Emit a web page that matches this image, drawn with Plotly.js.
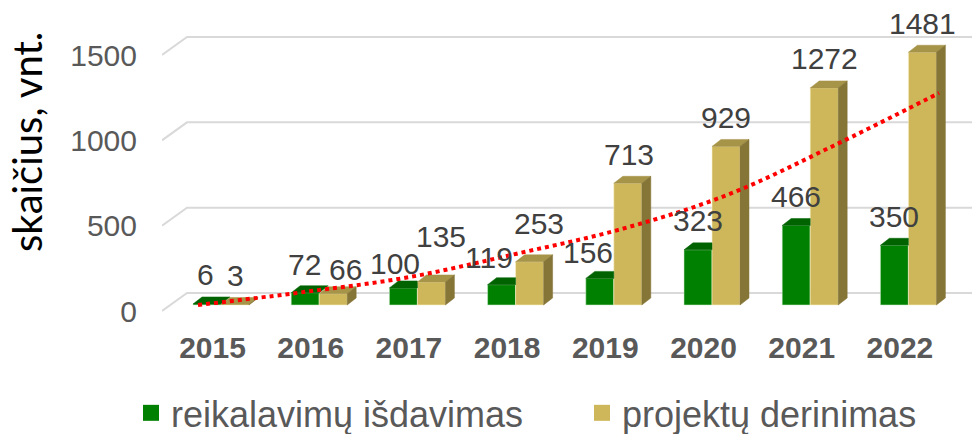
<!DOCTYPE html>
<html>
<head>
<meta charset="utf-8">
<script src="https://cdn.plot.ly/plotly-3.0.1.min.js"></script>
<style>html,body{margin:0;padding:0;background:#fff;}#chart{width:978px;height:434px;}</style>
</head>
<body>
<div id="chart"></div>
<script>
// ---- data ----
const years = ['2015','2016','2017','2018','2019','2020','2021','2022'];
const reikalavimu = [6, 72, 100, 119, 156, 323, 466, 350];
const projektu = [3, 66, 135, 253, 713, 929, 1272, 1481];
const trendValues = [0, 76, 164, 299, 445, 645, 932, 1242];
const yTickValues = [0, 500, 1000, 1500];
const seriesNames = ['reikalavimų išdavimas', 'projektų derinimas'];

// ---- label nudges (px) ----
const greenNudgeX = [-2, -1, -8, -13, -12, 0, 0, 0];
const greenNudgeY = [0, -1, -5, -2, -3, 0, 0, 0];
const yellowNudgeX = [0, 12, 10, 9, 1, 0, 0, 0];
const yellowNudgeY = [0, -5, 16, 9, 0, 0, 0, 0];

// ---- geometry (pixel-based, converted to axis units) ----
const W = 978, H = 434;
const M = {l: 162, r: 6, t: 10, b: 114, autoexpand: false};
const plotW = W - M.l - M.r, plotH = H - M.t - M.b;
const catStepPx = 98.2, cat0Px = 212.5;      // floor-front category centres
const zeroPx = 311, pxPerUnit = 0.17067;     // floor-front value scale
const ux = px => px / catStepPx;
const uy = px => px / pxPerUnit;
const xRange = [(M.l - cat0Px) / catStepPx, (W - M.r - cat0Px) / catStepPx];
const yRange = [(zeroPx - (H - M.b)) / pxPerUnit, (zeroPx - M.t) / pxPerUnit];

const BX = ux(8.5), BY = uy(6);   // bar plane offset from floor front
const BW = ux(28);                // bar width
const DX = ux(9), DY = uy(7);     // bar depth
const WX = ux(25), WY = uy(18);   // back wall depth
const trendX0 = ux(198 - cat0Px), trendStep = ux(105.86);

const C = {
  gFront: '#008000', gTop: '#006300',
  yFront: '#CEB75A', yTop: '#A69449', ySide: '#857537'
};

const idx = years.map((_, i) => i);

function poly(list) {
  const xs = [], ys = [];
  list.forEach(p => {
    p.forEach(pt => { xs.push(pt[0]); ys.push(pt[1]); });
    xs.push(p[0][0]); ys.push(p[0][1]);
    xs.push(null); ys.push(null);
  });
  return {xs, ys};
}

const gTops = idx.map(i => {
  const x0 = i + BX - BW, x1 = i + BX, t = BY + reikalavimu[i];
  if (reikalavimu[i] > projektu[i]) return [[x0,t],[x1,t],[x1+DX,t+DY],[x0+DX,t+DY]];
  return [[x0,t],[x1,t],[x1,t+DY],[x0+DX,t+DY]];
});
const yTops = idx.map(i => {
  const x0 = i + BX, x1 = x0 + BW, t = BY + projektu[i];
  return [[x0,t],[x1,t],[x1+DX,t+DY],[x0+DX,t+DY]];
});
const ySides = idx.map(i => {
  const x1 = i + BX + BW, t = BY + projektu[i];
  return [[x1,BY],[x1,t],[x1+DX,t+DY],[x1+DX,BY+DY]];
});

function faceTrace(list, color) {
  const p = poly(list);
  return {type: 'scatter', mode: 'lines', x: p.xs, y: p.ys, fill: 'toself', fillcolor: color,
          line: {color: color, width: 0.5}, hoverinfo: 'skip', showlegend: false};
}

const traces = [
  {type: 'bar', name: seriesNames[0], x: idx.map(i => i + BX), y: reikalavimu, base: BY,
   width: BW, offset: -BW, marker: {color: C.gFront, line: {color: 'rgba(200,235,200,0.55)', width: 1}}, showlegend: false},
  {type: 'bar', name: seriesNames[1], x: idx.map(i => i + BX), y: projektu, base: BY,
   width: BW, offset: 0, marker: {color: C.yFront, line: {color: 'rgba(250,240,200,0.6)', width: 1}}, showlegend: false},
  faceTrace(gTops, C.gTop),
  faceTrace(yTops, C.yTop),
  faceTrace(ySides, C.ySide),
  {type: 'scatter', mode: 'lines', x: idx.map(i => trendX0 + trendStep * i), y: trendValues.map(v => BY + v),
   line: {color: '#FF0000', width: 4, dash: 'dot', shape: 'spline'}, hoverinfo: 'skip', showlegend: false},
  {type: 'scatter', mode: 'markers', name: seriesNames[0], x: [null], y: [null], legendwidth: 406,
   marker: {symbol: 'square', size: 16, color: C.gFront}},
  {type: 'scatter', mode: 'markers', name: seriesNames[1], x: [null], y: [null],
   marker: {symbol: 'square', size: 16, color: C.yFront}}
];

// back-wall gridlines
const shapes = yTickValues.map(v => ({
  type: 'path', xref: 'x', yref: 'y', layer: 'below',
  path: `M ${xRange[0]},${v} L ${xRange[0] + WX},${v + WY} L ${xRange[1]},${v + WY}`,
  line: {color: '#D9D9D9', width: 2}
}));

// data labels
const labelFont = {family: 'Liberation Sans, Arial, sans-serif', size: 30, color: '#404040'};
const annotations = [];
idx.forEach(i => {
  annotations.push({x: i + BX - BW / 2, y: BY + reikalavimu[i], xref: 'x', yref: 'y', text: String(reikalavimu[i]),
    showarrow: false, font: labelFont, xanchor: 'center', yanchor: 'middle',
    xshift: greenNudgeX[i], yshift: 29 + greenNudgeY[i]});
  annotations.push({x: i + BX + BW / 2, y: BY + projektu[i], xref: 'x', yref: 'y', text: String(projektu[i]),
    showarrow: false, font: labelFont, xanchor: 'center', yanchor: 'middle',
    xshift: yellowNudgeX[i], yshift: 29 + yellowNudgeY[i]});
});
annotations.push({xref: 'paper', yref: 'paper', x: (27 - M.l) / plotW, y: (H - M.b - 142) / plotH,
  text: 'skaičius, vnt.', textangle: -90, showarrow: false, xanchor: 'center', yanchor: 'middle',
  font: {family: 'Lato, sans-serif', size: 40, color: '#000000'}});

const layout = {
  width: W, height: H,
  margin: M,
  paper_bgcolor: '#ffffff', plot_bgcolor: 'rgba(0,0,0,0)',
  barmode: 'overlay',
  xaxis: {type: 'linear', range: xRange, tickvals: idx, ticktext: years, showgrid: false, zeroline: false,
          showline: false, ticks: '', ticklabelstandoff: 7, automargin: false,
          tickfont: {family: 'Liberation Sans, Arial, sans-serif', size: 30, color: '#595959', weight: 'bold'}},
  yaxis: {range: yRange, tickvals: yTickValues, showgrid: false, zeroline: false, showline: false, ticks: '',
          ticklabelstandoff: 24, automargin: false,
          tickfont: {family: 'Liberation Sans, Arial, sans-serif', size: 30, color: '#595959'}},
  showlegend: true,
  legend: {orientation: 'h', x: (131 - M.l) / plotW, xanchor: 'left', y: -0.203, yanchor: 'top',
           font: {family: 'Liberation Sans, Arial, sans-serif', size: 36, color: '#595959'},
           itemwidth: 30, bgcolor: 'rgba(0,0,0,0)'},
  shapes: shapes,
  annotations: annotations,
  hovermode: false
};

Plotly.newPlot('chart', traces, layout, {displayModeBar: false, staticPlot: true});
</script>
</body>
</html>
